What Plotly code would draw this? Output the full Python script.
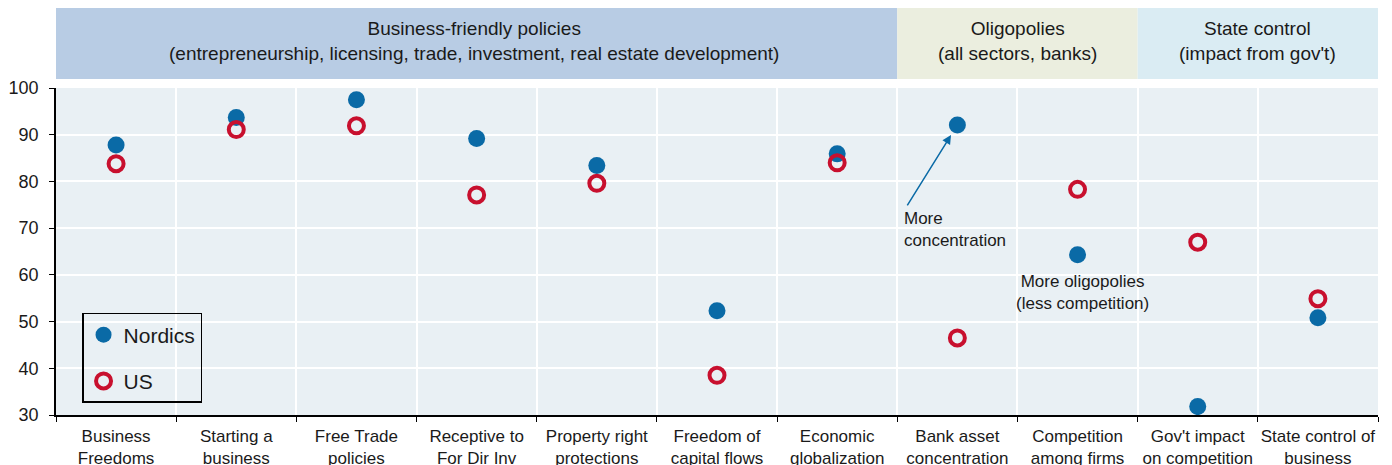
import plotly.graph_objects as go

categories = [
    'Business<br>Freedoms', 'Starting a<br>business', 'Free Trade<br>policies',
    'Receptive to<br>For Dir Inv', 'Property right<br>protections',
    'Freedom of<br>capital flows', 'Economic<br>globalization',
    'Bank asset<br>concentration', 'Competition<br>among firms',
    "Gov't impact<br>on competition", 'State control of<br>business',
]
nordics = [87.8, 93.7, 97.5, 89.2, 83.4, 52.3, 85.9, 92.1, 64.3, 31.8, 50.8]
us = [83.8, 91.1, 91.9, 77.1, 79.6, 38.5, 84.0, 46.5, 78.3, 67.0, 54.9]

# header groups: (first index, last index, title, colour)
groups = [
    (0, 6, 'Business-friendly policies<br>(entrepreneurship, licensing, trade, investment, real estate development)', '#b8cce4'),
    (7, 8, 'Oligopolies<br>(all sectors, banks)', '#ebeedf'),
    (9, 10, "State control<br>(impact from gov't)", '#daecf3'),
]

blue = '#0a6aa6'
red = '#c8102e'
txt = '#1a1a1a'

fig = go.Figure()
fig.add_trace(go.Scatter(
    x=categories, y=nordics, name='Nordics', mode='markers',
    legendgroup='a',
    marker=dict(size=17, color=blue),
))
fig.add_trace(go.Scatter(
    x=categories, y=us, name='US', mode='markers',
    legendgroup='b',
    marker=dict(size=15, color='rgba(0,0,0,0)', line=dict(color=red, width=4)),
))

for i0, i1, text, col in groups:
    x0 = i0 - 0.5 if i0 > 0 else -0.55
    x1 = i1 + 0.5
    fig.add_shape(type='rect', xref='x', yref='paper', x0=x0, x1=x1,
                  y0=1.0275, y1=1.245, fillcolor=col, line_width=0, layer='below')
    fig.add_annotation(xref='x', yref='paper', x=(x0 + x1) / 2, y=1.145,
                       yanchor='middle', text=text, showarrow=False,
                       font=dict(size=19, color=txt))

fig.add_annotation(x=categories[7], y=92.1, ax=-51, ay=82, axref='pixel', ayref='pixel',
                   text='', showarrow=True, arrowhead=2, arrowsize=1.2,
                   arrowwidth=1.5, arrowcolor=blue, standoff=12)
fig.add_annotation(x=categories[7], y=69.8, xshift=-55, text='More<br>concentration',
                   showarrow=False, xanchor='left', align='left',
                   font=dict(size=17, color=txt))
fig.add_annotation(x=categories[8], y=56.3, xshift=5, text='More oligopolies<br>(less competition)',
                   showarrow=False, align='center',
                   font=dict(size=17, color=txt))

fig.update_xaxes(
    range=[-0.5, 10.5], tickson='boundaries', ticks='outside', ticklen=5,
    tickcolor='black', showline=True, linecolor='black', linewidth=1.5,
    showgrid=True, gridcolor='white', gridwidth=2, automargin=False,
    tickangle=0, ticklabelstandoff=5, tickfont=dict(size=17, color=txt),
)
fig.update_yaxes(
    range=[30, 100], dtick=10, ticks='outside', ticklen=5, tickcolor='black',
    showline=True, linecolor='black', linewidth=1.5, automargin=False,
    gridcolor='white', gridwidth=2, zeroline=False, ticklabelstandoff=7,
    tickfont=dict(size=18, color=txt),
)

# the page body adds an 8px margin, so the figure is drawn 8px smaller
fig.update_layout(
    width=1384, height=457,
    margin=dict(l=48, r=14, t=80, b=50),
    plot_bgcolor='#e9f0f4', paper_bgcolor='white',
    font=dict(family='Liberation Sans, Arial, sans-serif'),
    legend=dict(
        x=0.0197, y=0.312, xanchor='left', yanchor='top',
        bordercolor='black', borderwidth=1.5, bgcolor='rgba(0,0,0,0)',
        font=dict(size=21, color=txt), tracegroupgap=16,
        traceorder='grouped', itemwidth=30,
    ),
)

fig.write_html('out.html')
